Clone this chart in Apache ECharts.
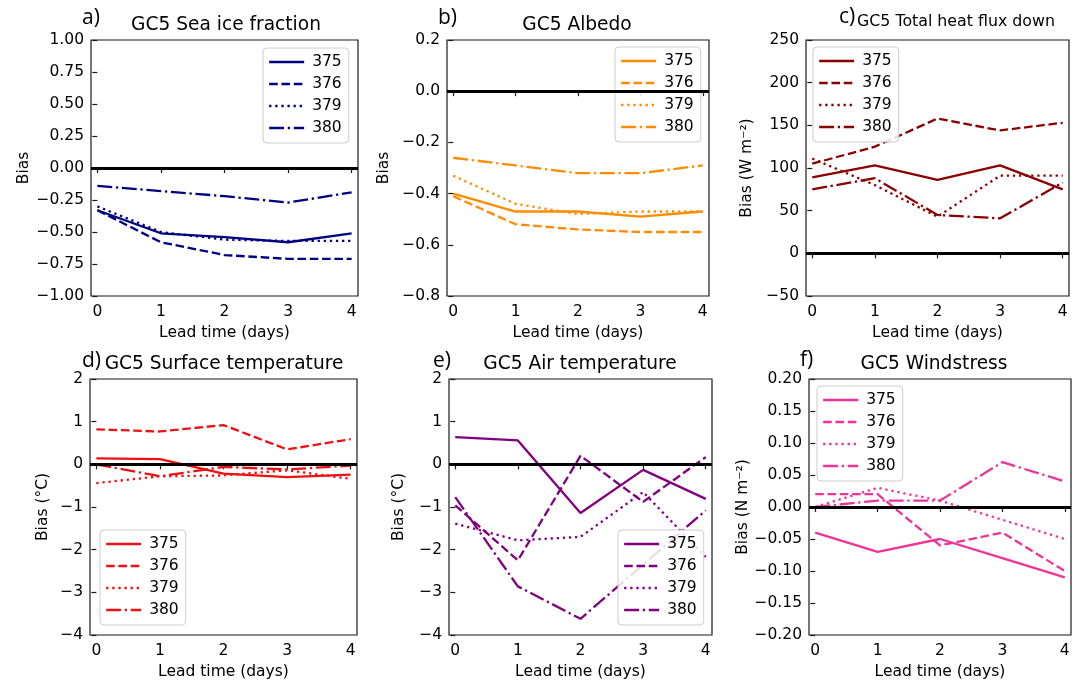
<!DOCTYPE html>
<html><head><meta charset="utf-8">
<script src="https://cdn.jsdelivr.net/npm/echarts@6/dist/echarts.min.js"></script>
<style>html,body{margin:0;padding:0;background:#fff}#c{width:1077px;height:685px}</style>
</head><body><div id="c"></div>
<script>
// ---- data ----
const leadDays = [0, 1, 2, 3, 4];
const xTicks = [0, 1, 2, 3, 4];
const runNames = ['375', '376', '379', '380'];
const seaIce = [
  [-0.33, -0.51, -0.54, -0.58, -0.51],
  [-0.33, -0.58, -0.68, -0.71, -0.71],
  [-0.30, -0.50, -0.56, -0.57, -0.57],
  [-0.14, -0.18, -0.22, -0.27, -0.19]];
const albedo = [
  [-0.40, -0.47, -0.47, -0.49, -0.47],
  [-0.41, -0.52, -0.54, -0.55, -0.55],
  [-0.33, -0.44, -0.48, -0.47, -0.47],
  [-0.26, -0.29, -0.32, -0.32, -0.29]];
const heatFlux = [
  [89, 103, 86, 103, 75],
  [105, 125, 158, 144, 153],
  [111, 80, 43, 91, 91],
  [75, 88, 45, 41, 83]];
const surfTemp = [
  [0.14, 0.12, -0.22, -0.30, -0.24],
  [0.82, 0.77, 0.92, 0.35, 0.59],
  [-0.44, -0.28, -0.26, -0.14, -0.34],
  [0.00, -0.28, -0.06, -0.12, -0.03]];
const airTemp = [
  [0.64, 0.56, -1.14, -0.13, -0.81],
  [-0.96, -2.25, 0.20, -0.88, 0.17],
  [-1.39, -1.78, -1.70, -0.65, -2.17],
  [-0.77, -2.86, -3.62, -2.35, -1.08]];
const windStress = [
  [-0.04, -0.07, -0.05, -0.08, -0.11],
  [0.02, 0.02, -0.06, -0.04, -0.10],
  [0.00, 0.03, 0.01, -0.02, -0.05],
  [0.00, 0.01, 0.01, 0.07, 0.04]];

// ---- styling / layout ----
const FONT = 'DejaVu Sans';
const dashTypes = ['solid', [8.6, 3.7], [2.3, 3.8], [14.9, 3.7, 2.3, 3.7]];
const panels = [
  {key:'a', data:seaIce, color:'#000080', title:'GC5 Sea ice fraction', titleSize:18.6, letter:'a)', yName:'Bias',
   min:-1, max:1, interval:0.25, dec:2, grid:{left:91, top:40, width:267, height:256},
   legend:{left:263, top:48}, yGap:59, titleX:226, titleY:25, letterX:82, letterY:18},
  {key:'b', data:albedo, color:'#ff8c00', title:'GC5 Albedo', titleSize:18.6, letter:'b)', yName:'Bias',
   min:-0.8, max:0.2, interval:0.2, dec:1, grid:{left:447, top:40, width:262, height:256},
   legend:{left:615, top:47}, yGap:55, titleX:577, titleY:25, letterX:438, letterY:18},
  {key:'c', data:heatFlux, color:'#8b0000', title:'GC5 Total heat flux down', titleSize:15.8, letter:'c)', yName:'Bias (W m\u207B\u00B2)',
   min:-50, max:250, interval:50, dec:0, grid:{left:806, top:40, width:263, height:256},
   legend:{left:813, top:47}, yGap:51, titleX:956, titleY:22, letterX:839, letterY:17},
  {key:'d', data:surfTemp, color:'#ee1111', title:'GC5 Surface temperature', titleSize:18.6, letter:'d)', yName:'Bias (\u00B0C)',
   min:-4, max:2, interval:1, dec:0, grid:{left:90, top:379, width:267, height:256},
   legend:{left:100, top:530}, yGap:39, titleX:224, titleY:364, letterX:82, letterY:361},
  {key:'e', data:airTemp, color:'#800080', title:'GC5 Air temperature', titleSize:18.6, letter:'e)', yName:'Bias (\u00B0C)',
   min:-4, max:2, interval:1, dec:0, grid:{left:449, top:379, width:263, height:256},
   legend:{left:618, top:530}, yGap:42, titleX:580, titleY:364, letterX:433, letterY:361},
  {key:'f', data:windStress, color:'#ee3399', title:'GC5 Windstress', titleSize:18.6, letter:'f)', yName:'Bias (N m\u207B\u00B2)',
   min:-0.2, max:0.2, interval:0.05, dec:2, grid:{left:809, top:379, width:262, height:256},
   legend:{left:817, top:386}, yGap:54, titleX:934, titleY:364, letterX:800, letterY:360}
];

function fmt(dec) {
  return function (v) {
    if (Math.abs(v) < 1e-9) v = 0;
    return v.toFixed(dec).replace('-', '\u2212');
  };
}

const grids = [], xAxes = [], yAxes = [], series = [], legends = [], graphics = [];
panels.forEach((p, i) => {
  grids.push(Object.assign({show:true, borderColor:'#1a1a1a', borderWidth:1.2, backgroundColor:'#fff'}, p.grid));
  xAxes.push({
    type:'value', gridIndex:i, min:-0.1, max:4.1,
    name:'Lead time (days)', nameLocation:'middle', nameGap:29,
    nameTextStyle:{fontFamily:FONT, fontSize:15.5, color:'#000'},
    axisLine:{show:false}, splitLine:{show:false},
    axisTick:{show:true, length:5, lineStyle:{color:'#1a1a1a', width:1.2}, customValues:xTicks},
    axisLabel:{fontFamily:FONT, fontSize:15.5, color:'#000', margin:8, customValues:xTicks,
      formatter: v => String(v)}
  });
  yAxes.push({
    type:'value', gridIndex:i, min:p.min, max:p.max, interval:p.interval,
    name:p.yName, nameLocation:'middle', nameGap:p.yGap, nameRotate:90,
    nameTextStyle:{fontFamily:FONT, fontSize:15.5, color:'#000'},
    axisLine:{show:false}, splitLine:{show:false},
    axisTick:{show:true, length:5, lineStyle:{color:'#1a1a1a', width:1.2}},
    axisLabel:{fontFamily:FONT, fontSize:15.5, color:'#000', margin:7, formatter:fmt(p.dec)}
  });
  const names = [];
  runNames.forEach((r, k) => {
    const nm = p.key + '|' + r;
    names.push(nm);
    const s = {
      name:nm, type:'line', xAxisIndex:i, yAxisIndex:i,
      data: leadDays.map((d, j) => [d, p.data[k][j]]),
      symbol:'none', showSymbol:false, animation:false, silent:true,
      color:p.color,
      itemStyle:{color:p.color},
      lineStyle:{color:p.color, width:2.3, type:dashTypes[k], cap:'butt'},
      z:3
    };
    if (k === 0) {
      s.markLine = {
        silent:true, symbol:['none','none'], label:{show:false}, animation:false,
        lineStyle:{color:'#000', width:2.8, type:'solid'},
        data:[{yAxis:0}], z:5
      };
    }
    series.push(s);
  });
  legends.push({
    data:names, orient:'vertical', left:p.legend.left, top:p.legend.top,
    itemWidth:35, itemHeight:12, itemGap:4, padding:[5, 7, 6, 5],
    backgroundColor:'rgba(255,255,255,0.85)', borderColor:'#cccccc', borderWidth:1, borderRadius:4,
    selectedMode:false,
    itemStyle:{opacity:0},
    lineStyle:{width:2.3},
    formatter: n => n.split('|')[1],
    textStyle:{fontFamily:FONT, fontSize:15.5, color:'#000', lineHeight:18, padding:[0,0,0,3]}
  });
  graphics.push({type:'text', x:p.titleX, y:p.titleY, silent:true,
    style:{text:p.title, fontFamily:FONT, fontSize:p.titleSize, fill:'#000', textAlign:'center', textVerticalAlign:'middle'}});
  graphics.push({type:'text', x:p.letterX, y:p.letterY, silent:true,
    style:{text:p.letter, fontFamily:'Open Sans', fontSize:21, fill:'#000', textAlign:'left', textVerticalAlign:'middle'}});
});

const chart = echarts.init(document.getElementById('c'), null, {renderer:'canvas'});
chart.setOption({
  animation:false, backgroundColor:'#fff',
  grid:grids, xAxis:xAxes, yAxis:yAxes, series:series, legend:legends, graphic:graphics
});
</script></body></html>
